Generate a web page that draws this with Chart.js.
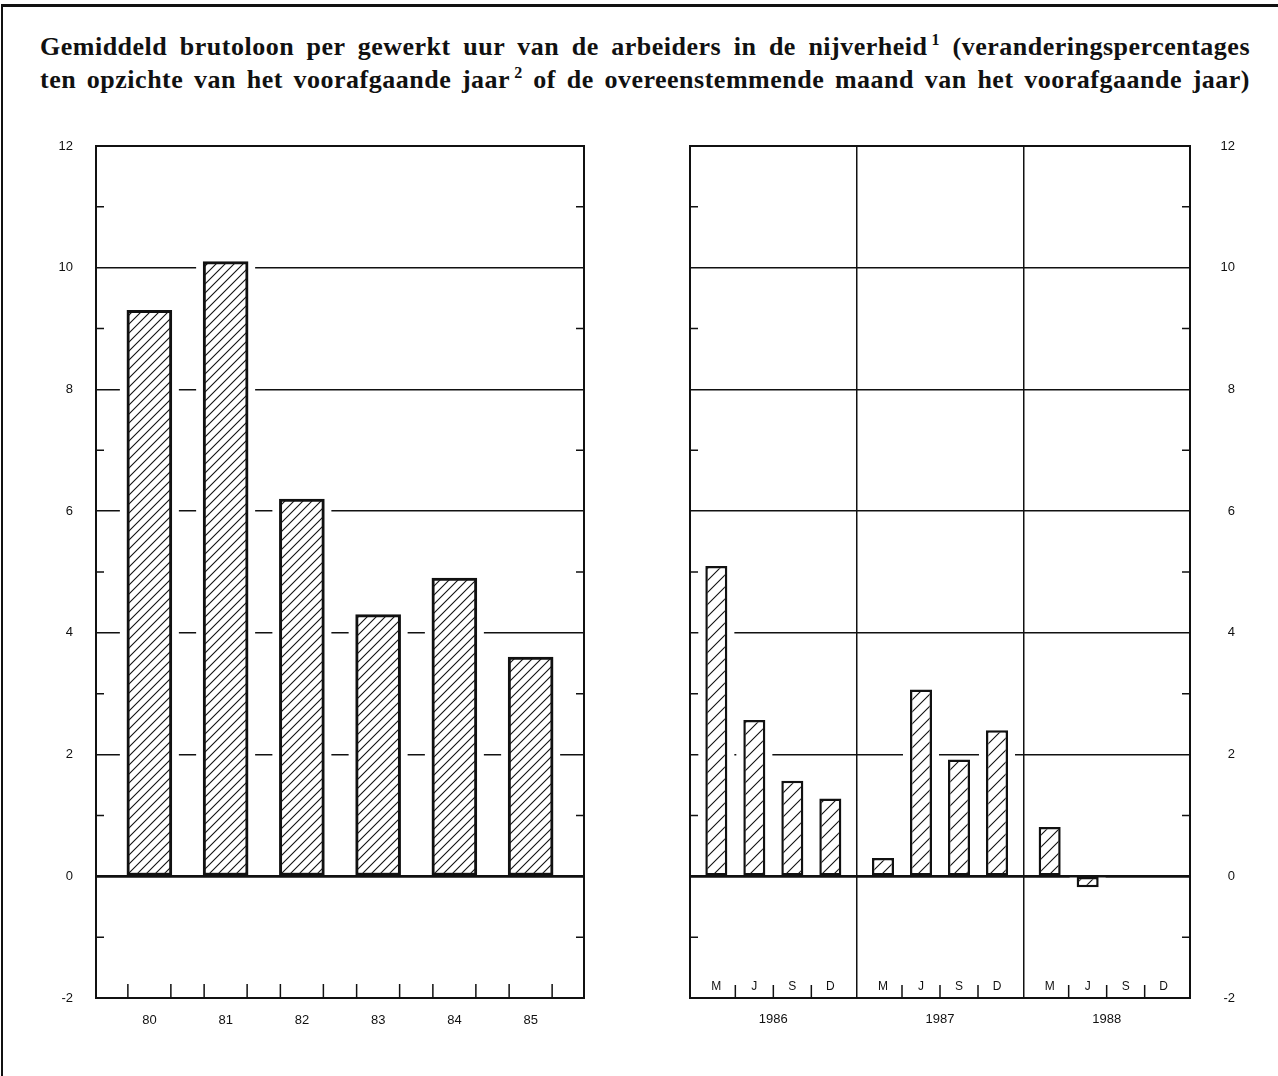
<!DOCTYPE html>
<html>
<head>
<meta charset="utf-8">
<script src="https://cdn.jsdelivr.net/npm/chart.js@4.4.0/dist/chart.umd.min.js"></script>
<style>
    body { margin: 0; background: #fff; }
    #page { position: relative; width: 1278px; height: 1076px; overflow: hidden; background: #fff; }
    #edge { position: absolute; left: 1px; top: 4px; width: 1300px; height: 1100px;
            border-top: 3px solid #111; border-left: 2px solid #111; }
    .title { position: absolute; left: 40px; width: 1210px; white-space: nowrap;
             font-family: "Liberation Serif", serif; font-weight: bold;
             font-size: 26px; line-height: 30px; letter-spacing: 0.5px; color: #111;
             text-align: justify; text-align-last: justify; }
    .title sup { font-size: 16px; line-height: 0; vertical-align: 10px; margin-left: 4px; }
    canvas { position: absolute; top: 120px; }
</style>
</head>
<body>
<div id="page">
    <div id="edge"></div>
    <div class="title" style="top:32px">Gemiddeld brutoloon per gewerkt uur van de arbeiders in de nijverheid<sup>1</sup> (veranderingspercentages</div>
    <div class="title" style="top:65px">ten opzichte van het voorafgaande jaar<sup>2</sup> of de overeenstemmende maand van het voorafgaande jaar)</div>
    <canvas id="yearChart" width="640" height="940" style="left:0px"></canvas>
    <canvas id="monthChart" width="638" height="940" style="left:640px"></canvas>
</div>

<script>
// ==========================
// DATA
// ==========================

const yearLabels = ["80", "81", "82", "83", "84", "85"];
const yearValues = [9.3, 10.1, 6.2, 4.3, 4.9, 3.6];

const periodLabels = ["1986", "1987", "1988"];
const monthLabels = ["M", "J", "S", "D"];
const marchValues = [5.1, 0.3, 0.81];
const juneValues = [2.57, 3.07, -0.18];
const septValues = [1.57, 1.92, null];
const decValues = [1.28, 2.4, null];

const yTicks = [-2, 0, 2, 4, 6, 8, 10, 12];
const yMinorTicks = [-1, 1, 3, 5, 7, 9, 11];


// ==========================
// HELPERS
// ==========================

const INK = "#111";
const HALO_X = 7;
const HALO_Y = 1;
const tickFont = { family: "'Liberation Sans', Arial, sans-serif", size: 13 };

function hatch(ctx, step) {
    const tile = document.createElement("canvas");
    tile.width = step;
    tile.height = step;
    const g = tile.getContext("2d");
    g.fillStyle = "#fff";
    g.fillRect(0, 0, step, step);
    g.strokeStyle = INK;
    g.lineWidth = 1.1;
    g.beginPath();
    g.moveTo(-1, step + 1); g.lineTo(step + 1, -1);
    g.moveTo(-1, 1); g.lineTo(1, -1);
    g.moveTo(step - 1, step + 1); g.lineTo(step + 1, step - 1);
    g.stroke();
    return ctx.createPattern(tile, "repeat");
}

// white margin round each bar, which breaks the grid lines
function drawHalos(chart) {
    const ctx = chart.ctx;
    ctx.save();
    ctx.fillStyle = "#fff";
    chart.data.datasets.forEach((ds, d) => {
        chart.getDatasetMeta(d).data.forEach((bar, i) => {
            const v = ds.data[i];
            if (v === null || (typeof v === "object" && v.y === null)) return;
            const p = bar.getProps(["x", "y", "base", "width"], true);
            const top = Math.min(p.y, p.base);
            const h = Math.abs(p.base - p.y);
            ctx.fillRect(p.x - p.width / 2 - HALO_X, top - HALO_Y,
                p.width + 2 * HALO_X, h + 2 * HALO_Y);
        });
    });
    ctx.restore();
}

function drawFrame(chart) {
    const { ctx, chartArea: a } = chart;
    const y = chart.scales.y;
    ctx.save();
    ctx.strokeStyle = INK;
    ctx.lineWidth = 2;
    ctx.strokeRect(a.left, a.top, a.right - a.left, a.bottom - a.top);

    const y0 = y.getPixelForValue(0);
    ctx.lineWidth = 2.5;
    ctx.beginPath();
    ctx.moveTo(a.left, y0);
    ctx.lineTo(a.right, y0);
    ctx.stroke();

    ctx.lineWidth = 1.5;
    ctx.beginPath();
    yMinorTicks.forEach(v => {
        const py = y.getPixelForValue(v);
        ctx.moveTo(a.left, py); ctx.lineTo(a.left + 8, py);
        ctx.moveTo(a.right, py); ctx.lineTo(a.right - 8, py);
    });
    ctx.stroke();
    ctx.restore();
}

function yScale(position, width, padding, crossAlign) {
    return {
        position: position,
        min: -2,
        max: 12,
        afterBuildTicks: s => { s.ticks = yTicks.map(v => ({ value: v })); },
        afterFit: s => {
            s.width = width;
            s.paddingTop = 0;
            s.paddingBottom = 0;
        },
        border: { display: false },
        grid: { color: INK, lineWidth: 1.5, drawTicks: false },
        ticks: { color: INK, font: tickFont, padding: padding, crossAlign: crossAlign }
    };
}


// ==========================
// LEFT PANEL: YEARS
// ==========================

const yearCanvas = document.getElementById("yearChart");
const yearCtx = yearCanvas.getContext("2d");

new Chart(yearCtx, {
    type: "bar",
    data: {
        datasets: [{
            data: yearValues.map((v, i) => ({ x: i, y: v })),
            backgroundColor: hatch(yearCtx, 9),
            borderColor: INK,
            borderWidth: 3,
            borderSkipped: false,
            barThickness: 45
        }]
    },
    options: {
        responsive: false,
        animation: false,
        devicePixelRatio: 1,
        layout: { padding: { left: 0, right: 56, top: 26, bottom: 0 } },
        plugins: { legend: { display: false }, tooltip: { enabled: false } },
        scales: {
            x: {
                type: "linear",
                offset: false,
                min: -0.7,
                max: 5.7,
                afterBuildTicks: s => { s.ticks = yearLabels.map((_, i) => ({ value: i })); },
                afterFit: s => { s.height = 62; },
                border: { display: false },
                grid: { display: false },
                ticks: {
                    color: INK, font: tickFont, padding: 7, maxRotation: 0,
                    autoSkip: false,
                    callback: v => yearLabels[v]
                }
            },
            y: yScale("left", 96, 23, "near")
        }
    },
    plugins: [{
        id: "yearDecor",
        beforeDatasetsDraw: drawHalos,
        afterDatasetsDraw(chart) {
            drawFrame(chart);
            const { ctx, chartArea: a } = chart;
            ctx.save();
            ctx.strokeStyle = INK;
            ctx.lineWidth = 1.5;
            ctx.beginPath();
            chart.getDatasetMeta(0).data.forEach(bar => {
                [bar.x - bar.width / 2 + 1, bar.x + bar.width / 2 - 1].forEach(px => {
                    ctx.moveTo(px, a.bottom);
                    ctx.lineTo(px, a.bottom - 14);
                });
            });
            ctx.stroke();
            ctx.restore();
        }
    }]
});


// ==========================
// RIGHT PANEL: MONTHS
// ==========================

const monthCanvas = document.getElementById("monthChart");
const monthCtx = monthCanvas.getContext("2d");
const monthPattern = hatch(monthCtx, 12);

new Chart(monthCtx, {
    type: "bar",
    data: {
        labels: periodLabels,
        datasets: [marchValues, juneValues, septValues, decValues].map((values, m) => ({
            label: monthLabels[m],
            data: values,
            backgroundColor: monthPattern,
            borderColor: INK,
            borderWidth: 2.5,
            borderSkipped: false,
            categoryPercentage: 0.912,
            barPercentage: 0.58
        }))
    },
    options: {
        responsive: false,
        animation: false,
        devicePixelRatio: 1,
        layout: { padding: { left: 50, right: 43, top: 26, bottom: 0 } },
        plugins: { legend: { display: false }, tooltip: { enabled: false } },
        scales: {
            x: {
                afterFit: s => { s.height = 62; },
                border: { display: false },
                grid: { offset: true, color: INK, lineWidth: 1.5, drawTicks: false },
                ticks: { color: INK, font: tickFont, padding: 14, maxRotation: 0 }
            },
            y: yScale("right", 45, 0, "far")
        }
    },
    plugins: [{
        id: "monthDecor",
        beforeDatasetsDraw: drawHalos,
        afterDatasetsDraw(chart) {
            drawFrame(chart);
            const { ctx, chartArea: a } = chart;
            const metas = monthLabels.map((_, m) => chart.getDatasetMeta(m));
            ctx.save();
            ctx.fillStyle = INK;
            ctx.strokeStyle = INK;
            ctx.lineWidth = 1.5;
            ctx.font = "12px 'Liberation Sans', Arial, sans-serif";
            ctx.textAlign = "center";
            ctx.textBaseline = "middle";
            ctx.beginPath();
            periodLabels.forEach((_, p) => {
                metas.forEach((meta, m) => {
                    const x = meta.data[p].x;
                    ctx.fillText(monthLabels[m], x, a.bottom - 11);
                    if (m < metas.length - 1) {
                        const mid = (x + metas[m + 1].data[p].x) / 2;
                        ctx.moveTo(mid, a.bottom);
                        ctx.lineTo(mid, a.bottom - 13);
                    }
                });
            });
            ctx.stroke();
            ctx.restore();
        }
    }]
});
</script>
</body>
</html>
